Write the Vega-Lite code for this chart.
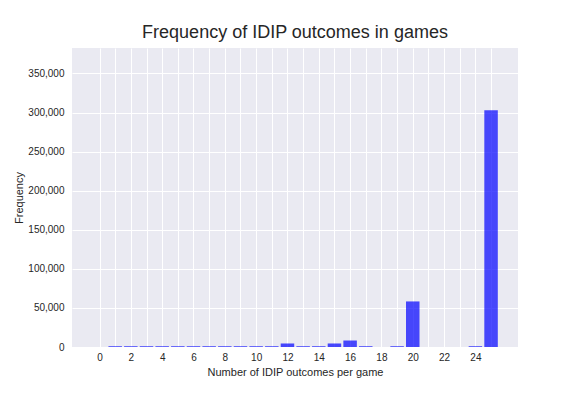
{
  "$schema": "https://vega.github.io/schema/vega-lite/v6.json",
  "width": 446,
  "height": 299,
  "autosize": {"type": "none"},
  "padding": {"left": 72, "top": 48, "right": 58, "bottom": 49},
  "background": "white",
  "config": {
    "font": "Liberation Sans",
    "view": {"fill": "#EAEAF2", "stroke": null},
    "axis": {
      "grid": true,
      "gridColor": "white",
      "gridWidth": 1,
      "gridOpacity": 1,
      "domain": false,
      "ticks": false,
      "labelFont": "Liberation Sans",
      "labelFontSize": 10,
      "labelColor": "#262626",
      "titleFont": "Liberation Sans",
      "titleFontSize": 11,
      "titleFontWeight": "normal",
      "titleColor": "#262626"
    }
  },
  "title": {
    "text": "Frequency of IDIP outcomes in games",
    "font": "Liberation Sans",
    "fontSize": 18,
    "fontWeight": "normal",
    "color": "#262626",
    "anchor": "middle",
    "offset": 6
  },
  "data": {
    "values": [
      {"n": 1, "count": 1000},
      {"n": 2, "count": 1000},
      {"n": 3, "count": 1000},
      {"n": 4, "count": 1000},
      {"n": 5, "count": 1000},
      {"n": 6, "count": 1000},
      {"n": 7, "count": 1000},
      {"n": 8, "count": 1000},
      {"n": 9, "count": 1000},
      {"n": 10, "count": 1000},
      {"n": 11, "count": 1000},
      {"n": 12, "count": 4500},
      {"n": 13, "count": 1000},
      {"n": 14, "count": 1000},
      {"n": 15, "count": 4500},
      {"n": 16, "count": 8300},
      {"n": 17, "count": 1000},
      {"n": 18, "count": 0},
      {"n": 19, "count": 1000},
      {"n": 20, "count": 58300},
      {"n": 21, "count": 0},
      {"n": 22, "count": 0},
      {"n": 23, "count": 0},
      {"n": 24, "count": 1000},
      {"n": 25, "count": 302800}
    ]
  },
  "mark": {"type": "bar", "color": "#0000ff", "opacity": 0.7, "width": 13.5},
  "encoding": {
    "x": {
      "field": "n",
      "type": "quantitative",
      "scale": {"domain": [-1.757, 26.72], "nice": false, "zero": false, "padding": 0},
      "axis": {
        "title": "Number of IDIP outcomes per game",
        "values": [0,1,2,3,4,5,6,7,8,9,10,11,12,13,14,15,16,17,18,19,20,21,22,23,24,25],
        "labelExpr": "(datum.value % 2 == 0 && datum.value <= 24) ? datum.label : ''",
        "format": "d",
        "labelPadding": 5,
        "titlePadding": 4,
        "labelFlush": false,
        "labelOverlap": false
      }
    },
    "y": {
      "field": "count",
      "type": "quantitative",
      "scale": {"domain": [0, 382600], "nice": false, "padding": 0},
      "axis": {
        "title": "Frequency",
        "values": [0, 50000, 100000, 150000, 200000, 250000, 300000, 350000],
        "format": ",d",
        "labelPadding": 8,
        "titlePadding": 3
      }
    }
  }
}
